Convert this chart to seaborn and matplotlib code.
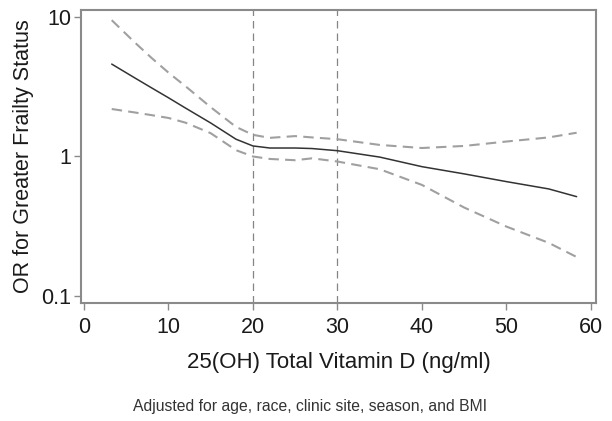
import matplotlib
matplotlib.use("Agg")
import matplotlib.pyplot as plt
import numpy as np
import pandas as pd
import seaborn as sns
from matplotlib.ticker import FixedLocator, NullLocator, FixedFormatter

# Values
vit_d = [3.3, 6, 8, 10, 12, 15, 18, 20, 22, 25, 27, 30, 35, 40, 45, 50, 55, 58.3]
odds = [4.6, 3.67, 3.11, 2.64, 2.23, 1.74, 1.33, 1.19, 1.15, 1.15, 1.14, 1.10, 0.99, 0.845, 0.75, 0.66, 0.585, 0.515]
upper = [9.5, 6.6, 5.1, 4.0, 3.2, 2.26, 1.63, 1.43, 1.36, 1.40, 1.37, 1.33, 1.21, 1.15, 1.19, 1.28, 1.37, 1.48]
lower = [2.19, 2.07, 1.98, 1.89, 1.75, 1.47, 1.11, 1.0, 0.96, 0.94, 0.97, 0.92, 0.81, 0.625, 0.43, 0.314, 0.24, 0.19]
cutoffs = [20, 30]

sns.set_style("white")
plt.rcParams["font.family"] = ["Liberation Sans", "DejaVu Sans"]

data = pd.DataFrame({"x": vit_d, "or": odds, "hi": upper, "lo": lower})

fig = plt.figure(figsize=(6.12, 4.21), dpi=100)
ax = fig.add_axes([0.132, 0.280, 0.842, 0.696])

for c in cutoffs:
    ax.axvline(c, color="#858585", lw=0.9, ls=(0, (6, 4)))

sns.lineplot(data=data, x="x", y="hi", ax=ax, color="#a0a0a0", lw=1.5,
             linestyle=(0, (5, 3)))
sns.lineplot(data=data, x="x", y="lo", ax=ax, color="#a0a0a0", lw=1.5,
             linestyle=(0, (5, 3)))
sns.lineplot(data=data, x="x", y="or", ax=ax, color="#333333", lw=1.1)

ax.set_yscale("log")
ax.set_xlim(-0.36, 60.6)
ax.set_ylim(10 ** -1.052, 10 ** 1.05)
ax.set_xticks([0, 10, 20, 30, 40, 50, 60])
ax.yaxis.set_major_locator(FixedLocator([0.1, 1, 10]))
ax.yaxis.set_major_formatter(FixedFormatter(["0.1", "1", "10"]))
ax.yaxis.set_minor_locator(NullLocator())

for s in ax.spines.values():
    s.set_color("#8a8a8a")
    s.set_linewidth(1.5)
ax.tick_params(axis="both", direction="out", length=5, width=1, color="#8a8a8a",
               labelsize=15.5, labelcolor="#1a1a1a", left=True, bottom=True)
ax.tick_params(axis="x", pad=5)
ax.tick_params(axis="y", pad=2)

ax.set_xlabel("25(OH) Total Vitamin D (ng/ml)", fontsize=16, color="#1a1a1a", labelpad=10)
ax.set_ylabel("OR for Greater Frailty Status", fontsize=15.5, color="#1a1a1a", labelpad=5)

fig.text(0.506, 0.035, "Adjusted for age, race, clinic site, season, and BMI",
         ha="center", va="center", fontsize=11.3, color="#333333")

fig.savefig("out.png", dpi=100)
